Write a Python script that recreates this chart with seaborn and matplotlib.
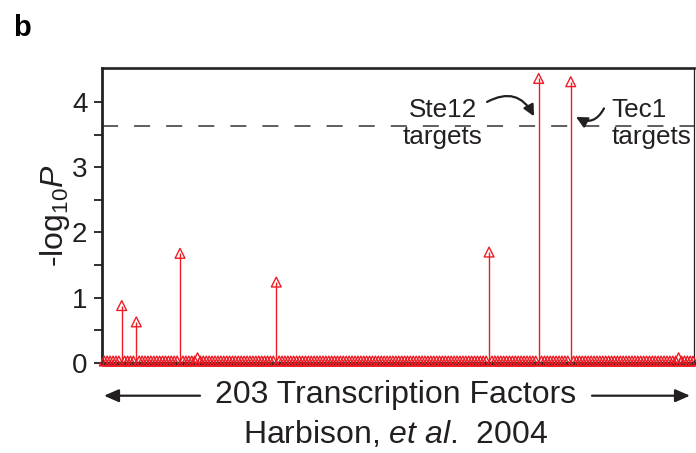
import numpy as np
import pandas as pd
import matplotlib
matplotlib.use("Agg")
import matplotlib.pyplot as plt
import seaborn as sns

# ---- data -------------------------------------------------------------
n_factors = 203                      # transcription factors tested
background_score = 0.03             # factors with no enrichment sit at ~0
hit_index = [6, 11, 26, 32, 59, 132, 149, 160, 197]
hit_score = [0.88, 0.63, 1.68, 0.08, 1.24, 1.70, 4.36, 4.31, 0.08]
threshold = 3.63                     # significance cut-off (-log10 P)
y_ticks = [0, 1, 2, 3, 4]

scores = np.full(n_factors, background_score)
scores[hit_index] = hit_score
df = pd.DataFrame({"factor": np.arange(n_factors), "score": scores})

# ---- style ------------------------------------------------------------
sns.set_theme(style="ticks")
plt.rcParams["font.family"] = ["Liberation Sans", "DejaVu Sans"]
plt.rcParams["mathtext.fontset"] = "custom"
plt.rcParams["mathtext.rm"] = "Liberation Sans"
plt.rcParams["mathtext.it"] = "Liberation Sans:italic"
ink = "#231f20"
red = "#ee1c24"

fig = plt.figure(figsize=(6.96, 4.53), dpi=100)
ax = fig.add_axes([0.1466, 0.1987, 0.997 - 0.1466, 0.8499 - 0.1987])

base = -0.035
# stems
ax.vlines(df["factor"], base, df["score"], color=red, lw=1.0, zorder=2,
          clip_on=False)
ax.hlines(base, -1.5, n_factors - 0.75, color=red, lw=1.3, zorder=2,
          clip_on=False)
# open triangle heads
sns.scatterplot(data=df, x="factor", y="score", marker="^", s=50,
                ax=ax, zorder=3, clip_on=False, legend=False)
pts = ax.collections[-1]
pts.set_facecolor("none")
pts.set_edgecolor(red)
pts.set_linewidth(1.0)

# significance threshold
ax.axhline(threshold, color="#333333", lw=1.1, dashes=(10.5, 10.5), zorder=1)

ax.set_xlim(-0.75, n_factors - 0.75)
ax.set_ylim(0, 4.52)
ax.set_yticks(y_ticks)
ax.set_yticks(np.arange(0.5, 4.5, 1.0), minor=True)
ax.set_xticks([])
ax.tick_params(axis="y", which="both", direction="out", length=5.5,
               width=1.3, color=ink, labelsize=20, labelcolor=ink, pad=5)
ax.set_xlabel("")
ax.set_ylabel("-log$_{10}$$\\it{P}$", fontsize=23, color=ink)
ax.yaxis.set_label_coords(-0.05, 0.5)

for side, lw in (("left", 2.0), ("bottom", 2.4), ("top", 1.9), ("right", 0.9)):
    ax.spines[side].set_visible(True)
    ax.spines[side].set_linewidth(lw)
    ax.spines[side].set_color("#222222")

# labelled targets
lab = 18.8
ax.text(116.2, 3.77, "Ste12", ha="center", va="baseline", fontsize=lab, color=ink)
ax.text(116.2, 3.36, "targets", ha="center", va="baseline", fontsize=lab, color=ink)
ax.text(174.0, 3.77, "Tec1", ha="left", va="baseline", fontsize=lab, color=ink)
ax.text(174.0, 3.36, "targets", ha="left", va="baseline", fontsize=lab, color=ink)

arrow_kw = dict(arrowstyle="-|>,head_length=0.6,head_width=0.3",
                color=ink, lw=1.6, mutation_scale=11, shrinkA=0, shrinkB=0)
ax.annotate("", xy=(147.4, 3.78), xytext=(131.3, 4.00),
            arrowprops=dict(connectionstyle="arc3,rad=-0.5", **arrow_kw))
ax.annotate("", xy=(161.8, 3.77), xytext=(171.4, 3.90),
            arrowprops=dict(connectionstyle="arc3,rad=-0.5", **arrow_kw))

# axis caption with span arrows
fig.text(396 / 696, 1 - 403 / 453, "203 Transcription Factors", ha="center",
         va="baseline", fontsize=23, color=ink)
fig.text(396 / 696, 1 - 443 / 453, "Harbison, $\\it{et\\ al}$.  2004",
         ha="center", va="baseline", fontsize=23, color=ink)
span_kw = dict(arrowstyle="-|>,head_length=0.8,head_width=0.35", color=ink,
               lw=1.6, mutation_scale=11, shrinkA=0, shrinkB=0)
yy = 1 - 395.7 / 453
fig.add_artist(matplotlib.patches.FancyArrowPatch(
    (200 / 696, yy), (104 / 696, yy), transform=fig.transFigure, **span_kw))
fig.add_artist(matplotlib.patches.FancyArrowPatch(
    (592 / 696, yy), (690 / 696, yy), transform=fig.transFigure, **span_kw))

fig.text(13 / 696, 1 - 36 / 453, "b", ha="left", va="baseline", fontsize=21,
         fontweight="bold", color="black")

fig.savefig("out.png", dpi=100)
